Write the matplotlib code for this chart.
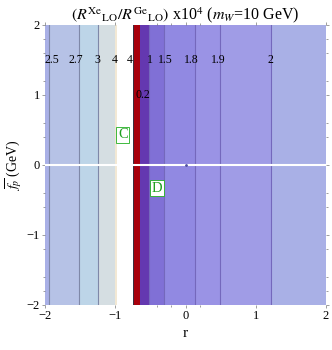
import numpy as np
import matplotlib
matplotlib.use("Agg")
import matplotlib.pyplot as plt

plt.rcParams['font.family'] = ['Liberation Serif', 'DejaVu Serif']
plt.rcParams['mathtext.fontset'] = 'stix'

# band edges in r and fill colours (ratio x10^4 as a function of r)
band_edges = [-2.0, -1.94, -1.51, -1.25, -1.0, -0.98, -0.75, -0.735, -0.645, -0.515, -0.30, 0.13, 0.49, 1.21, 2.0]
band_colors = ['#a9b0e6', '#b6c2e6', '#bdd5e8', '#d5dee2', '#f2e8d4', '#ffffff', '#3a3040',
               '#a8000c', '#6438b0', '#8070d6', '#9189e2', '#9a93e5', '#a09ce6', '#a9b0e6']

# contour lines and their labels
contour_r = [-1.94, -1.51, -1.25, -0.515, -0.30, 0.13, 0.49, 1.21]
label_text = ['2.5', '2.7', '3', '4', '4', '1', '1.5', '1.8', '1.9', '2', '0.2']
label_r = [-1.9, -1.56, -1.25, -1.0, -0.80, -0.51, -0.29, 0.08, 0.46, 1.21, -0.60]
label_fp = [1.5, 1.5, 1.5, 1.5, 1.5, 1.5, 1.5, 1.5, 1.5, 1.5, 1.0]

regions = ['C', 'D']
region_r = [-0.89, -0.40]
region_fp = [0.43, -0.33]

fig = plt.figure(figsize=(3.32, 3.5), dpi=100)
ax = fig.add_axes([0.1355, 0.1286, 0.8465, 0.8])

for i in range(len(band_colors)):
    ax.axvspan(band_edges[i], band_edges[i + 1], color=band_colors[i], lw=0)

for r in contour_r:
    c = '#7f88a8' if r < -1 else '#7468bc'
    ax.axvline(r, color=c, lw=0.8)

for t, r, fp in zip(label_text, label_r, label_fp):
    ax.text(r, fp, t, ha='center', va='center', fontsize=8.5, color='black')

ax.axhline(0, color='white', lw=1.5)
ax.plot([0], [0], marker='.', color='#5050a0', ms=2)

for t, r, fp in zip(regions, region_r, region_fp):
    ax.text(r, fp, t, ha='center', va='center', fontsize=10.5, color='#20a020',
            bbox=dict(facecolor='white', edgecolor='#20b020', lw=0.6, pad=1.2))

ax.set_xlim(-2, 2)
ax.set_ylim(-2, 2)
ax.set_xticks([-2, -1, 0, 1, 2])
ax.set_yticks([-2, -1, 0, 1, 2])
ax.set_xticklabels(['\u22122', '\u22121', '0', '1', '2'])
ax.set_yticklabels(['\u22122', '\u22121', '0', '1', '2'])
ax.set_xticks([-0.4, -0.2, 0.2], minor=True)
ax.set_yticks([-1.8, -1.6, -1.2, -0.6, -0.4, 0.4, 0.6, 1.2, 1.6, 1.8], minor=True)
ax.tick_params(which='both', direction='out', top=True, right=True, labelsize=9,
               length=2.5, width=0.5, color='#777777', pad=1)
ax.tick_params(which='minor', length=1.5)
for s in ax.spines.values():
    s.set_visible(False)

ax.set_xlabel('r', fontsize=11, labelpad=4)
ax.set_ylabel(r'$\overline{f_p}$ (GeV)', fontsize=10, labelpad=2)
ax.set_title(r'$(R^{\rm Xe}{}_{\rm LO}/R^{\rm Ge}{}_{\rm LO})$ x10$^4$ ($m_W$=10 GeV)',
             fontsize=11.5, pad=4)

fig.savefig('out.png', dpi=100)
